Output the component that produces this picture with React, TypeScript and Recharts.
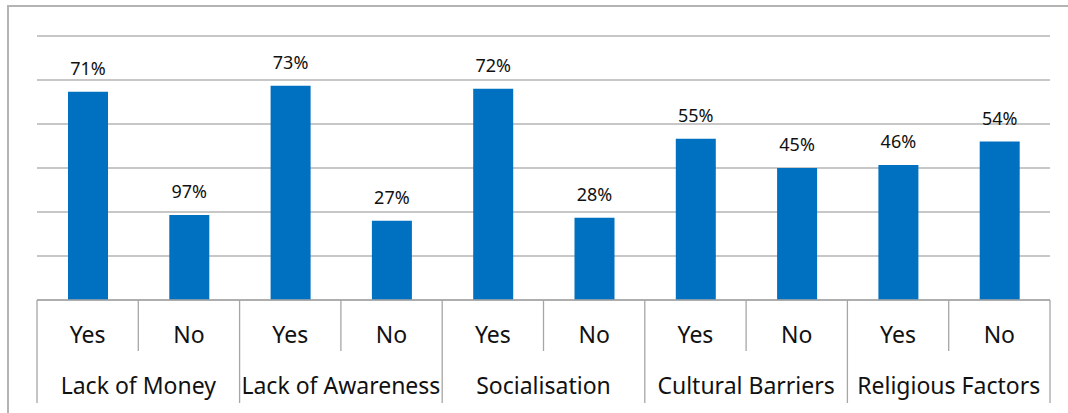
import React from "react";
import { BarChart, Bar, XAxis, YAxis, CartesianGrid, LabelList } from "recharts";

const groups = ["Lack of Money", "Lack of Awareness", "Socialisation", "Cultural Barriers", "Religious Factors"];
const answers = ["Yes", "No"];
const values = [71, 29, 73, 27, 72, 28, 55, 45, 46, 54];
const valueLabels = ["71%", "97%", "73%", "27%", "72%", "28%", "55%", "45%", "46%", "54%"];
const yTicks = [0, 15, 30, 45, 60, 75, 90];

const data = values.map((v, i) => ({
  key: `${groups[Math.floor(i / 2)]}-${answers[i % 2]}`,
  answer: answers[i % 2],
  group: groups[Math.floor(i / 2)],
  value: v,
  label: valueLabels[i],
}));

const W = 1068;
const H = 413;
const AXIS_H = 113;
const M = { top: 36, right: 18, left: 37, bottom: 0 };
const BAND = (W - M.left - M.right) / data.length;
const BASE = H - AXIS_H;
const FONT = "'Noto Sans', 'Open Sans', sans-serif";

const Tick = (props: any) => {
  const { x, index } = props;
  const d = data[index];
  const els: any[] = [];
  els.push(
    <text key="a" x={x} y={BASE + 43} textAnchor="middle" fontSize={23} fontFamily={FONT} fill="#111">
      {d.answer}
    </text>
  );
  if (index % 2 === 0) {
    els.push(<line key="l" x1={x - BAND / 2} x2={x - BAND / 2} y1={BASE} y2={BASE + 103} stroke="#a6a6a6" strokeWidth={1.3} />);
    els.push(<line key="m" x1={x + BAND / 2} x2={x + BAND / 2} y1={BASE} y2={BASE + 51} stroke="#a6a6a6" strokeWidth={1.3} />);
    els.push(
      <text key="g" x={x + BAND / 2} y={BASE + 94} textAnchor="middle" fontSize={23} fontFamily={FONT} fill="#111">
        {d.group}
      </text>
    );
  } else if (index === data.length - 1) {
    els.push(<line key="r" x1={x + BAND / 2} x2={x + BAND / 2} y1={BASE} y2={BASE + 103} stroke="#a6a6a6" strokeWidth={1.3} />);
  }
  return <g>{els}</g>;
};

const ValueLabel = (props: any) => {
  const { x, y, width, index } = props;
  return (
    <text x={x + width / 2} y={y - 17} textAnchor="middle" fontSize={18} fontFamily={FONT} fill="#111">
      {data[index].label}
    </text>
  );
};

export default function App() {
  return (
    <div style={{ position: "absolute", left: 0, top: 0, width: W, height: H, overflow: "hidden", background: "#fff" }}>
      <div
        style={{
          position: "absolute",
          left: 7,
          top: 5,
          width: 1200,
          height: 600,
          border: "2px solid #b4b4b4",
        }}
      />
      <div style={{ position: "absolute", left: 0, top: 0 }}>
        <BarChart width={W} height={H} data={data} margin={M} barCategoryGap={0}>
          <CartesianGrid vertical={false} stroke="#8f8f8f" strokeWidth={1.2} />
          <YAxis hide domain={[0, 90]} ticks={yTicks} />
          <XAxis
            dataKey="key"
            interval={0}
            tickLine={false}
            axisLine={{ stroke: "#a6a6a6", strokeWidth: 1.3 }}
            tick={<Tick />}
            height={AXIS_H}
          />
          <Bar dataKey="value" fill="#0070C0" barSize={40} isAnimationActive={false}>
            <LabelList dataKey="label" content={<ValueLabel />} />
          </Bar>
        </BarChart>
      </div>
    </div>
  );
}
